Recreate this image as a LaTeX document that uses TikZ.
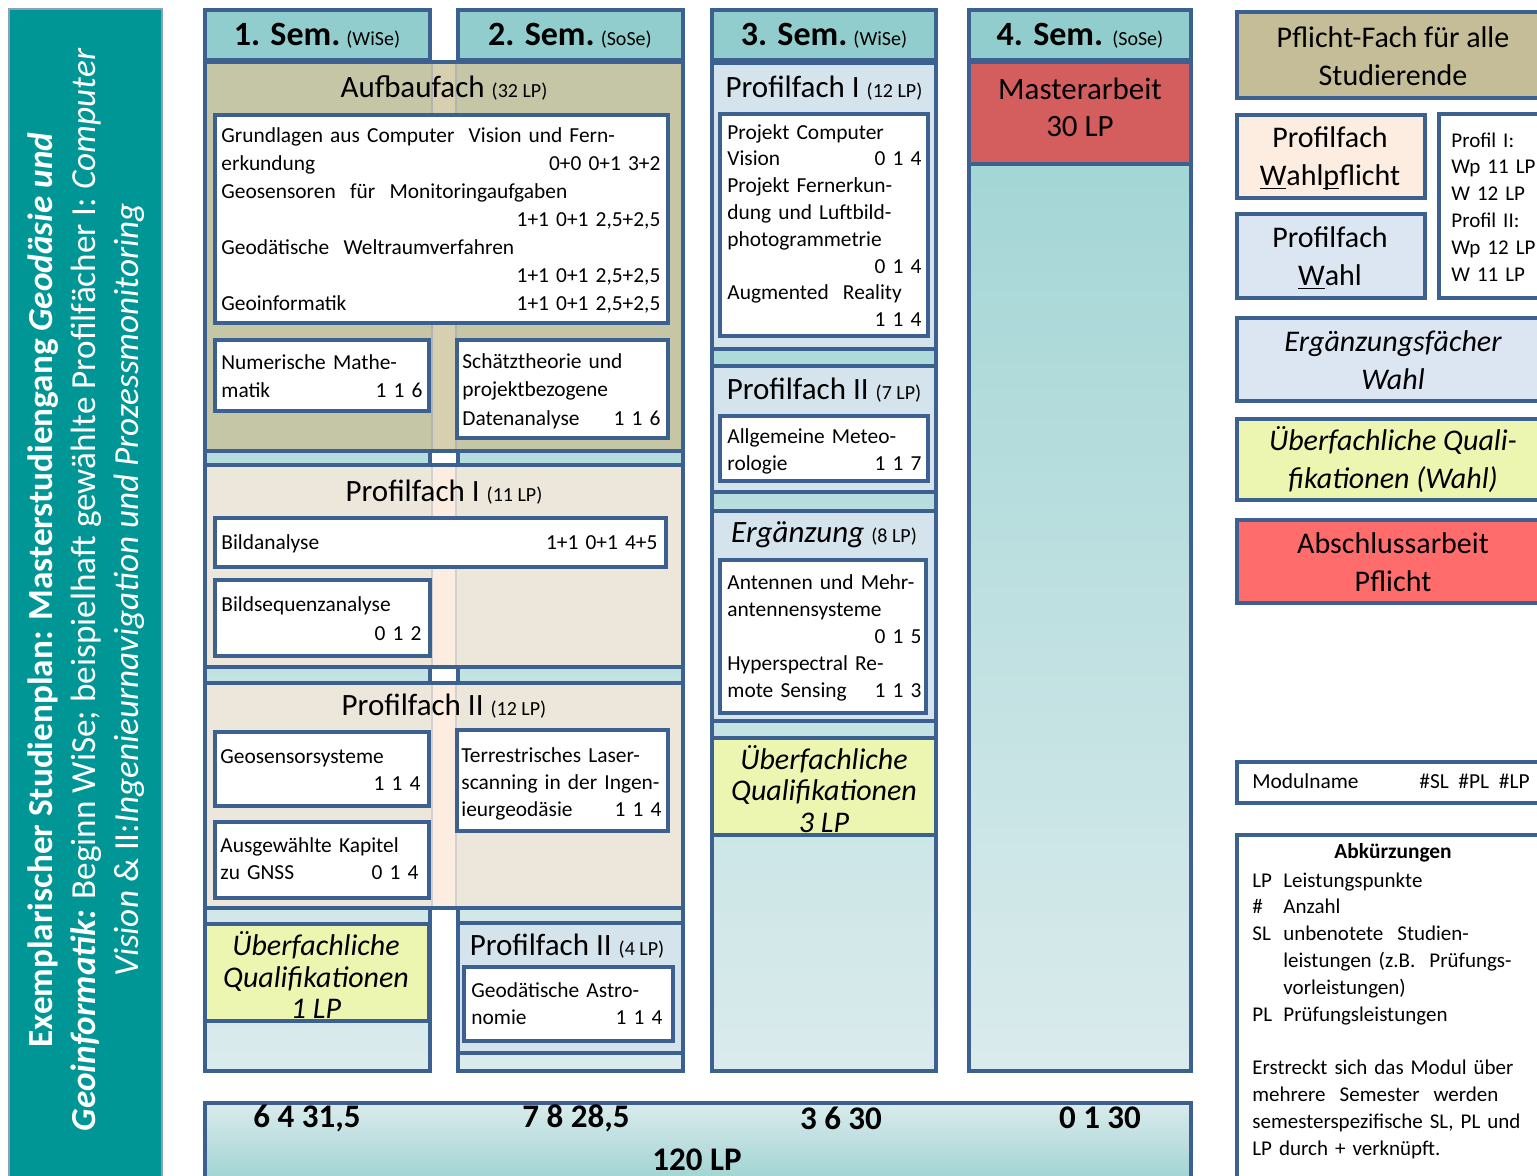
\documentclass[tikz,border=0pt]{standalone}
\usepackage{fontspec}
\setmainfont{Carlito}
\definecolor{edge}{RGB}{60,96,144}
\definecolor{banner}{RGB}{0,150,150}
\definecolor{headfill}{RGB}{146,205,205}
\definecolor{bodytop}{RGB}{158,211,211}
\definecolor{bodybot}{RGB}{218,235,236}
\definecolor{aufbau}{RGB}{196,198,165}
\definecolor{aufstrip}{RGB}{214,208,176}
\definecolor{profil}{RGB}{237,230,218}
\definecolor{profstrip}{RGB}{252,237,224}
\definecolor{wahl}{RGB}{212,227,236}
\definecolor{wahlleg}{RGB}{220,230,242}
\definecolor{quali}{RGB}{236,246,176}
\definecolor{master}{RGB}{212,94,94}
\definecolor{pflicht}{RGB}{196,189,151}
\definecolor{wahlpf}{RGB}{253,237,224}
\definecolor{abschluss}{RGB}{255,108,108}
\newcommand\modfont{\fontsize{10.7}{13.6}\selectfont}
\newcommand\titlefont{\fontsize{15.5}{18}\selectfont}
\newcommand\lpfont{\fontsize{10}{12}\selectfont}
\newcommand\semfont{\fontsize{17}{20}\selectfont\bfseries}
\newcommand\rnum[1]{\mbox{}\hfill #1}
\tikzset{
  frame/.style={draw=edge, line width=2.2pt},
  semhead/.style={frame, fill=headfill},
  colbody/.style={frame, top color=bodytop, bottom color=bodybot},
  modbox/.style={frame, fill=white},
  modtext/.style={anchor=north west, inner sep=0pt, text width=#1, font=\modfont},
  blocktitle/.style={inner sep=0pt, font=\titlefont},
  bigtext/.style={inner sep=0pt, align=center, font=\fontsize{15}{19}\selectfont},
  qualitext/.style={inner sep=0pt, align=center, font=\fontsize{15}{15.8}\selectfont\itshape},
  sumtext/.style={inner sep=0pt, font=\fontsize{16.5}{18}\selectfont\bfseries}
}
\begin{document}
\begin{tikzpicture}[x=0.5pt,y=-0.5pt]
\useasboundingbox (0,0) rectangle (1537,1176);
\clip (0,0) rectangle (1537,1176);
\filldraw[fill=banner, draw=edge!60, line width=0.6pt] (9,9) rectangle (162,1190);
\node[rotate=90, align=center, text=white, inner sep=0pt,
  font=\fontsize{17.6}{21.5}\selectfont] (title) at (86,590)
  {\textbf{Exemplarischer Studienplan: Masterstudiengang \textit{Geodäsie und}}\\
   \textbf{\textit{Geoinformatik:}} Beginn WiSe; beispielhaft gewählte Profilfächer I: \textit{Computer}\\
   \textit{Vision} \& II:\textit{Ingenieurnavigation und Prozessmonitoring}};
\foreach \xa/\xb in {205/430, 458/683, 712/936, 969/1191}{
  \filldraw[colbody] (\xa,60) rectangle (\xb,1071);
  \filldraw[semhead] (\xa,10) rectangle (\xb,60);
}
\node[inner sep=0pt] (sem1) at (317,36) {{\semfont 1. Sem.} {\lpfont (WiSe)}};
\node[inner sep=0pt] (sem2) at (570,36) {{\semfont 2. Sem.} {\lpfont (SoSe)}};
\node[inner sep=0pt] (sem3) at (824,36) {{\semfont 3. Sem.} {\lpfont (WiSe)}};
\node[inner sep=0pt] (sem4) at (1080,36) {{\semfont 4. Sem.}\ \ {\lpfont (SoSe)}};
\filldraw[frame, fill=aufbau] (205,62) rectangle (683,451);
\fill[aufstrip] (432,64) rectangle (456,449);
\draw[black!30, line width=1.4pt] (432,64) -- (432,449) (456,64) -- (456,449);
\node[blocktitle] (aufbau) at (444,88) {Aufbaufach {\lpfont (32 LP)}};
\filldraw[modbox] (215,115) rectangle (668,323);
\node[modtext=219.5pt, font=\fontsize{10.7}{14}\selectfont] (grundlagen) at (221,123)
  {\strut Grundlagen aus Computer\ \ Vision und Fern-\\
   erkundung\hfill 0+0 0+1 3+2\\
   Geosensoren\ \ für\ \ Monitoringaufgaben\\
   \rnum{1+1 0+1 2,5+2,5}\\
   Geodätische\ \ Weltraumverfahren\\
   \rnum{1+1 0+1 2,5+2,5}\\
   Geoinformatik\hfill 1+1 0+1 2,5+2,5};
\filldraw[modbox] (215,340) rectangle (429,411);
\node[modtext=100.5pt, font=\fontsize{10.7}{14}\selectfont] (nummath) at (221,350)
  {\strut Numerische Mathe-\\ matik\hfill 1 1 6};
\filldraw[modbox] (457,340) rectangle (668,438);
\node[modtext=99pt, font=\fontsize{10.7}{14.2}\selectfont] (schaetz) at (462,348)
  {\strut Schätztheorie und\\ projektbezogene\\ Datenanalyse\hfill 1 1 6};
\filldraw[frame, fill=profil] (205,465) rectangle (683,667);
\fill[profstrip] (432,467) rectangle (456,665);
\draw[black!18, line width=1.4pt] (432,467) -- (432,665) (456,467) -- (456,665);
\node[blocktitle] (prof1) at (444,492) {Profilfach I {\lpfont (11 LP)}};
\filldraw[modbox] (215,518) rectangle (666,567);
\node[modtext=218pt] (bildana) at (221,530) {\strut Bildanalyse\hfill 1+1 0+1 4+5};
\filldraw[modbox] (215,580) rectangle (430,656);
\node[modtext=100pt, font=\fontsize{10.7}{14.5}\selectfont] (bildseq) at (221,591)
  {\strut Bildsequenzanalyse\\ \rnum{0 1 2}};
\filldraw[frame, fill=profil] (205,683) rectangle (683,908);
\fill[profstrip] (432,685) rectangle (456,906);
\draw[black!18, line width=1.4pt] (432,685) -- (432,906) (456,685) -- (456,906);
\node[blocktitle] (prof2) at (444,706) {Profilfach II {\lpfont (12 LP)}};
\filldraw[modbox] (215,732) rectangle (429,806);
\node[modtext=100pt] (geosens) at (220,744) {\strut Geosensorsysteme\\ \rnum{1 1 4}};
\filldraw[modbox] (457,730) rectangle (668,831);
\node[modtext=100pt] (tls) at (461,743)
  {\strut Terrestrisches Laser-\\ scanning in der Ingen-\\ ieurgeodäsie\hfill 1 1 4};
\filldraw[modbox] (215,822) rectangle (429,898);
\node[modtext=99pt] (gnss) at (220,833) {\strut Ausgewählte Kapitel\\ zu GNSS\hfill 0 1 4};
\filldraw[frame, fill=quali] (205,924) rectangle (429,1021);
\node[qualitext] (quali1) at (316,975) {Überfachliche\\ Qualifikationen\\ 1 LP};
\filldraw[frame, fill=wahl] (458,923) rectangle (683,1053);
\node[blocktitle] (prof2b) at (567,946) {Profilfach II {\lpfont (4 LP)}};
\filldraw[modbox] (464,967) rectangle (673,1041);
\node[modtext=95.5pt] (astro) at (471,978) {\strut Geodätische Astro-\\ nomie\hfill 1 1 4};
\filldraw[frame, fill=wahl] (712,63) rectangle (936,349);
\node[blocktitle] (prof1c) at (824,88) {Profilfach I {\lpfont (12 LP)}};
\filldraw[modbox] (720,114) rectangle (928,336);
\node[modtext=97pt, font=\fontsize{10.7}{13.4}\selectfont] (projekt) at (727,120)
  {\strut Projekt Computer\\ Vision\hfill 0 1 4\\ Projekt Fernerkun-\\ dung und Luftbild-\\
   photogrammetrie\\ \rnum{0 1 4}\\ Augmented\ \ Reality\\ \rnum{1 1 4}};
\filldraw[frame, fill=wahl] (712,366) rectangle (936,492);
\node[blocktitle] (prof2c) at (824,390) {Profilfach II {\lpfont (7 LP)}};
\filldraw[modbox] (720,416) rectangle (928,481);
\node[modtext=97pt, font=\fontsize{10.7}{13.2}\selectfont] (meteo) at (727,425)
  {\strut Allgemeine Meteo-\\ rologie\hfill 1 1 7};
\filldraw[frame, fill=wahl] (712,511) rectangle (936,721);
\node[blocktitle] (ergaenz) at (824,535) {\textit{Ergänzung} {\lpfont (8 LP)}};
\filldraw[modbox] (720,560) rectangle (926,713);
\node[modtext=97pt, font=\fontsize{10.7}{13.5}\selectfont] (antennen) at (727,570)
  {\strut Antennen und Mehr-\\ antennensysteme\\ \rnum{0 1 5}\\ Hyperspectral Re-\\ mote Sensing\hfill 1 1 3};
\filldraw[frame, fill=quali] (712,738) rectangle (936,835);
\node[qualitext] (quali3) at (824,789) {Überfachliche\\ Qualifikationen\\ 3 LP};
\filldraw[frame, fill=master] (969,62) rectangle (1191,164);
\node[inner sep=0pt, align=center, font=\fontsize{15.5}{18.5}\selectfont] (masterarbeit) at (1080,107) {Masterarbeit\\ 30 LP};
\filldraw[frame, top color=bodybot, bottom color=headfill] (205,1103) rectangle (1191,1200);
\node[sumtext] (sum1) at (307,1118) {6 4 31,5};
\node[sumtext] (sum2) at (576,1118) {7 8 28,5};
\node[sumtext] (sum3) at (841,1118) {3 6 30};
\node[sumtext] (sum4) at (1100,1118) {0 1 30};
\node[sumtext] (total) at (697,1160) {120 LP};
\filldraw[frame, fill=pflicht] (1237,12) rectangle (1545,98);
\node[bigtext] (legpflicht) at (1393,56) {Pflicht-Fach für alle\\ Studierende};
\filldraw[frame, fill=wahlpf] (1237,115) rectangle (1425,198);
\node[bigtext] (legwp) at (1330,158) {Profilfach\\ \underline{\smash{W}}ahl\underline{\smash{p}}flicht};
\filldraw[frame, fill=wahlleg] (1237,214) rectangle (1425,298);
\node[bigtext] (legw) at (1330,258) {Profilfach\\ \underline{\smash{W}}ahl};
\filldraw[modbox] (1439,114) rectangle (1545,298);
\node[modtext=60pt, font=\fontsize{10.5}{13.4}\selectfont] (legprofil) at (1451,128)
  {\strut Profil I:\\ Wp 11 LP\\ W 12 LP\\ Profil II:\\ Wp 12 LP\\ W 11 LP};
\filldraw[frame, fill=wahlleg] (1237,318) rectangle (1545,401);
\node[bigtext, font=\fontsize{15}{19}\selectfont\itshape] (legerg) at (1393,360) {Ergänzungsfächer\\ Wahl};
\filldraw[frame, fill=quali] (1237,419) rectangle (1545,500);
\node[bigtext, font=\fontsize{15}{19}\selectfont\itshape] (legquali) at (1393,460) {Überfachliche Quali-\\ fikationen (Wahl)};
\filldraw[frame, fill=abschluss] (1237,520) rectangle (1545,603);
\node[bigtext] (legab) at (1393,562) {Abschlussarbeit\\ Pflicht};
\filldraw[modbox] (1237,762) rectangle (1545,803);
\node[anchor=west, inner sep=0pt, font=\modfont] (modulname) at (1252,781) {Modulname};
\node[anchor=east, inner sep=0pt, font=\modfont] (modulzahl) at (1530,781) {\#SL\ \ \#PL\ \ \#LP};
\filldraw[modbox] (1237,835) rectangle (1545,1200);
\node[inner sep=0pt, font=\modfont\bfseries] (abk) at (1393,853) {Abkürzungen};
\node[modtext=145pt, font=\fontsize{10.5}{13.4}\selectfont] (abktext) at (1252,868)
  {\strut\makebox[15.5pt][l]{LP}Leistungspunkte\\
   \makebox[15.5pt][l]{\#}Anzahl\\
   \makebox[15.5pt][l]{SL}unbenotete\ \ Studien-\\
   \hspace*{15.5pt}leistungen (z.B.\ \ Prüfungs-\\
   \hspace*{15.5pt}vorleistungen)\\
   \makebox[15.5pt][l]{PL}Prüfungsleistungen\\
   \mbox{}\\
   Erstreckt sich das Modul über\\
   mehrere\ \ Semester\ \ werden\\
   semesterspezifische SL, PL und\\
   LP durch + verknüpft.};
\end{tikzpicture}
\end{document}
